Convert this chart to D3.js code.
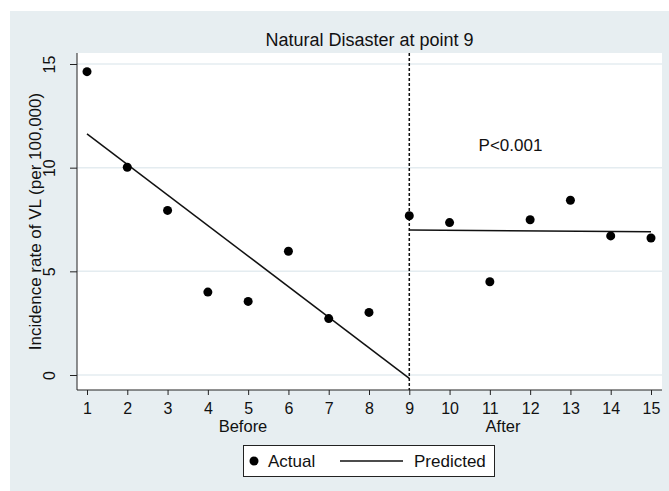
<!DOCTYPE html>
<html>
<head>
<meta charset="utf-8">
<script src="https://cdn.jsdelivr.net/npm/d3@7"></script>
<style>
  body { margin: 0; background: #fff; }
  svg { display: block; font-family: "Liberation Sans", Arial, sans-serif; }
  .axis path, .axis line { stroke: #222; }
  .axis text { fill: #111; font-size: 16px; }
</style>
</head>
<body>
<svg id="chart" width="669" height="491"></svg>
<script>
// observed incidence per time point
const timePoints = [1, 2, 3, 4, 5, 6, 7, 8, 9, 10, 11, 12, 13, 14, 15];
const actual = [14.63, 10.02, 7.94, 4.00, 3.55, 5.97, 2.72, 3.02, 7.68, 7.35, 4.50, 7.49, 8.43, 6.71, 6.61];

// fitted segments, before and after the disaster
const predBefore = [[1, 11.63], [9, -0.16]];
const predAfter = [[9, 6.99], [15, 6.91]];

const xTicks = timePoints;
const yTicks = [0, 5, 10, 15];
const breakPoint = 9;

const svg = d3.select('#chart');

const plot = {left: 77, right: 662, top: 53, bottom: 390};

const x = d3.scaleLinear().domain([1, 15]).range([87, 651]);
const y = d3.scaleLinear().domain([0, 15]).range([375, 64]);

// graph region
svg.append('rect')
  .attr('x', 10).attr('y', 11)
  .attr('width', 669 - 10).attr('height', 491 - 11)
  .attr('fill', '#e7eef1');

// plot region
svg.append('rect')
  .attr('x', plot.left).attr('y', plot.top)
  .attr('width', plot.right - plot.left).attr('height', plot.bottom - plot.top)
  .attr('fill', '#fff');

// gridlines
svg.append('g')
  .selectAll('line')
  .data(yTicks)
  .join('line')
    .attr('x1', plot.left).attr('x2', plot.right)
    .attr('y1', (d) => y(d)).attr('y2', (d) => y(d))
    .attr('stroke', '#e4ecf0')
    .attr('stroke-width', 1.5);

// axes
const yAxis = svg.append('g')
  .attr('class', 'axis')
  .attr('transform', `translate(${plot.left},0)`)
  .call(d3.axisLeft(y).tickValues(yTicks).tickSize(7).tickSizeOuter(0));
yAxis.select('.domain').attr('d', `M0,${plot.top}V${plot.bottom}`);
yAxis.selectAll('.tick text')
  .attr('transform', 'rotate(-90)')
  .attr('text-anchor', 'middle')
  .attr('x', 0)
  .attr('y', -22)
  .attr('dy', 0);

const xAxis = svg.append('g')
  .attr('class', 'axis')
  .attr('transform', `translate(0,${plot.bottom})`)
  .call(d3.axisBottom(x).tickValues(xTicks).tickSize(5).tickSizeOuter(0).tickFormat(d3.format('d')));
xAxis.select('.domain').attr('d', `M${plot.left},0H${plot.right}`);
xAxis.selectAll('.tick text')
  .attr('y', 24)
  .attr('dy', 0);

// axis titles
svg.append('text')
  .attr('transform', `translate(41,${(plot.top + plot.bottom) / 2}) rotate(-90)`)
  .attr('text-anchor', 'middle')
  .attr('font-size', 17)
  .attr('fill', '#111')
  .text('Incidence rate of VL (per 100,000)');

svg.append('text')
  .attr('x', 243).attr('y', 432)
  .attr('text-anchor', 'middle')
  .attr('font-size', 16.5)
  .attr('fill', '#111')
  .text('Before');

svg.append('text')
  .attr('x', 503).attr('y', 432)
  .attr('text-anchor', 'middle')
  .attr('font-size', 16.5)
  .attr('fill', '#111')
  .text('After');

// title
svg.append('text')
  .attr('x', (plot.left + plot.right) / 2).attr('y', 46)
  .attr('text-anchor', 'middle')
  .attr('font-size', 18)
  .attr('fill', '#111')
  .text('Natural Disaster at point 9');

// intervention line
svg.append('line')
  .attr('x1', x(breakPoint)).attr('x2', x(breakPoint))
  .attr('y1', plot.top).attr('y2', plot.bottom)
  .attr('stroke', '#111')
  .attr('stroke-width', 1.5)
  .attr('stroke-dasharray', '3,2');

// predicted lines
const line = d3.line().x((d) => x(d[0])).y((d) => y(d[1]));
[predBefore, predAfter].forEach((seg) => {
  svg.append('path')
    .attr('d', line(seg))
    .attr('fill', 'none')
    .attr('stroke', '#111')
    .attr('stroke-width', 1.5);
});

// actual points
svg.append('g')
  .selectAll('circle')
  .data(timePoints)
  .join('circle')
    .attr('cx', (d) => x(d))
    .attr('cy', (d, i) => y(actual[i]))
    .attr('r', 4.5)
    .attr('fill', '#000');

// p-value annotation
svg.append('text')
  .attr('x', 510.5).attr('y', 151)
  .attr('text-anchor', 'middle')
  .attr('font-size', 17)
  .attr('fill', '#111')
  .text('P<0.001');

// legend
const legend = svg.append('g');
legend.append('rect')
  .attr('x', 243.5).attr('y', 445.5)
  .attr('width', 251).attr('height', 31)
  .attr('fill', '#fff')
  .attr('stroke', '#222');
legend.append('circle')
  .attr('cx', 254).attr('cy', 461)
  .attr('r', 4.5)
  .attr('fill', '#000');
legend.append('text')
  .attr('x', 268).attr('y', 467)
  .attr('font-size', 17)
  .attr('fill', '#111')
  .text('Actual');
legend.append('line')
  .attr('x1', 340).attr('x2', 403)
  .attr('y1', 461).attr('y2', 461)
  .attr('stroke', '#111')
  .attr('stroke-width', 1.5);
legend.append('text')
  .attr('x', 414).attr('y', 467)
  .attr('font-size', 17)
  .attr('fill', '#111')
  .text('Predicted');
</script>
</body>
</html>
